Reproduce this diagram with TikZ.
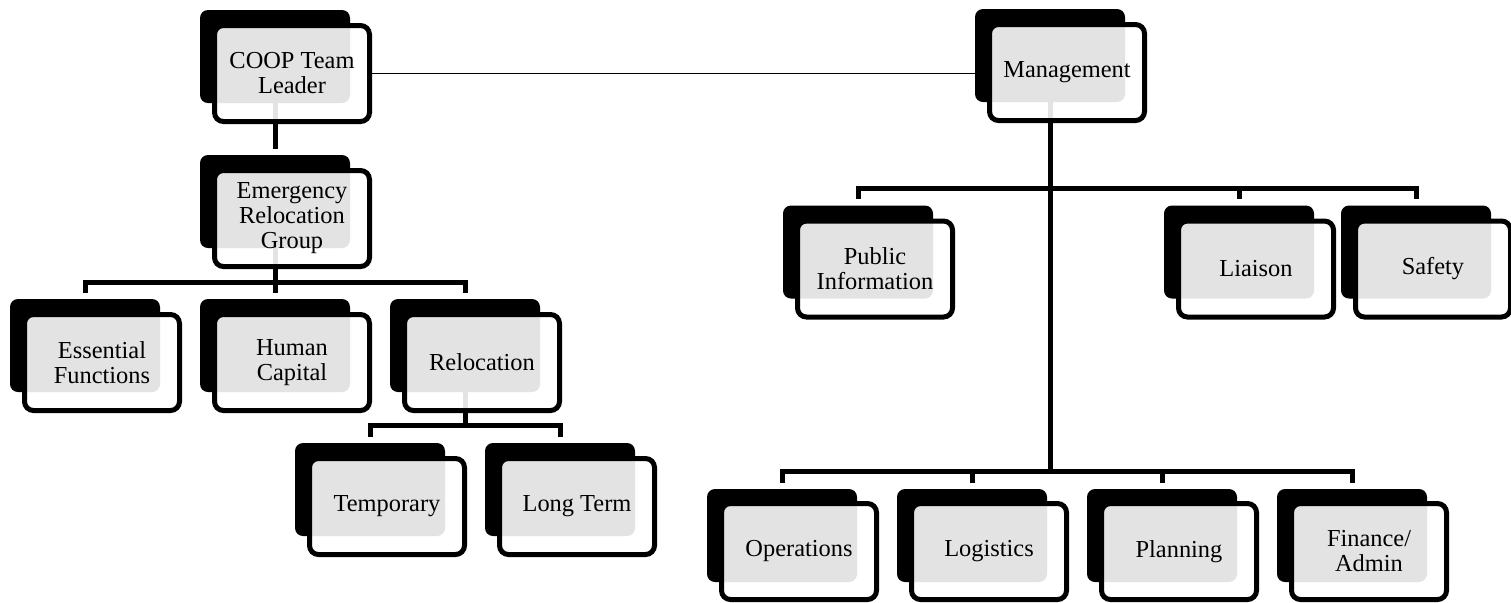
\documentclass[tikz,border=0pt]{standalone}
\usepackage{fontspec}
\setmainfont{Liberation Serif}
\usetikzlibrary{backgrounds}
\tikzset{
  back/.style ={fill=black, rounded corners=4pt, inner sep=0pt,
                minimum width=75pt, minimum height=46.5pt},
  unit/.style ={draw, line width=2.5pt, rounded corners=4.5pt, fill=white,
                fill opacity=0.89, text opacity=1, align=center, inner sep=2pt,
                minimum width=77.5pt, minimum height=48pt,
                font=\fontsize{12.2}{12.5}\selectfont},
  link/.style ={line width=2.5pt, shorten >=3pt},
  tie/.style  ={line width=0.9pt},
}

\begin{document}
\begin{tikzpicture}[x=0.5pt, y=-0.5pt]
  \useasboundingbox (0,0) rectangle (1511,602);
  % COOP side
  \node[back] (coopB) at (275,56.5) {};
  \node[unit] (coop)  at ([shift={(17,17)}]coopB) {COOP Team\\Leader};
  \node[back] (ergB)  at (275,201.5) {};
  \node[unit] (erg)   at ([shift={(17,17)}]ergB) {Emergency\\Relocation\\Group};
  \node[back] (efB)   at (85,345.5) {};
  \node[unit] (ef)    at ([shift={(17,17)}]efB) {Essential\\Functions};
  \node[back] (hcB)   at (275,345.5) {};
  \node[unit] (hc)    at ([shift={(17,17)}]hcB) {Human\\Capital};
  \node[back] (relB)  at (465,345.5) {};
  \node[unit] (rel)   at ([shift={(17,17)}]relB) {Relocation};
  \node[back] (tmpB)  at (370,489.5) {};
  \node[unit] (tmp)   at ([shift={(17,17)}]tmpB) {Temporary};
  \node[back] (ltB)   at (560,489.5) {};
  \node[unit] (lt)    at ([shift={(17,17)}]ltB) {Long Term};
  % Management side
  \node[back] (mgmtB) at (1050,55.5) {};
  \node[unit] (mgmt)  at ([shift={(17,17)}]mgmtB) {Management};
  \node[back] (piB)   at (858,252) {};
  \node[unit] (pi)    at ([shift={(17,17)}]piB) {Public\\Information};
  \node[back] (liaB)  at (1239,252) {};
  \node[unit] (lia)   at ([shift={(17,17)}]liaB) {Liaison};
  \node[back] (safB)  at (1416,252) {};
  \node[unit] (saf)   at ([shift={(17,17)}]safB) {Safety};
  \node[back] (opsB)  at (782,535.5) {};
  \node[unit] (ops)   at ([shift={(17,16)}]opsB) {Operations};
  \node[back] (logB)  at (972,535.5) {};
  \node[unit] (log)   at ([shift={(17,16)}]logB) {Logistics};
  \node[back] (plnB)  at (1162,535.5) {};
  \node[unit] (pln)   at ([shift={(17,16)}]plnB) {Planning};
  \node[back] (finB)  at (1352,535.5) {};
  \node[unit] (fin)   at ([shift={(17,16)}]finB) {Finance/\\Admin};

  \begin{scope}[on background layer]
    \draw[tie]  (coop.east) -- (coop.east -| mgmtB.west);
    \draw[link] (coopB.center) -- (ergB.north);
    \draw[link] (ergB.center) -- ++(0,81) -| (efB.north);
    \draw[link] (ergB.center) -- ++(0,81) -| (hcB.north);
    \draw[link] (ergB.center) -- ++(0,81) -| (relB.north);
    \draw[link] (relB.center) -- ++(0,80) -| (tmpB.north);
    \draw[link] (relB.center) -- ++(0,80) -| (ltB.north);
    \draw[link] (mgmtB.center) -- ++(0,132.5) -| (piB.north);
    \draw[link] (mgmtB.center) -- ++(0,132.5) -| (liaB.north);
    \draw[link] (mgmtB.center) -- ++(0,132.5) -| (safB.north);
    \draw[link] (mgmtB.center) -- ++(0,416) -| (opsB.north);
    \draw[link] (mgmtB.center) -- ++(0,416) -| (logB.north);
    \draw[link] (mgmtB.center) -- ++(0,416) -| (plnB.north);
    \draw[link] (mgmtB.center) -- ++(0,416) -| (finB.north);
  \end{scope}
\end{tikzpicture}
\end{document}
